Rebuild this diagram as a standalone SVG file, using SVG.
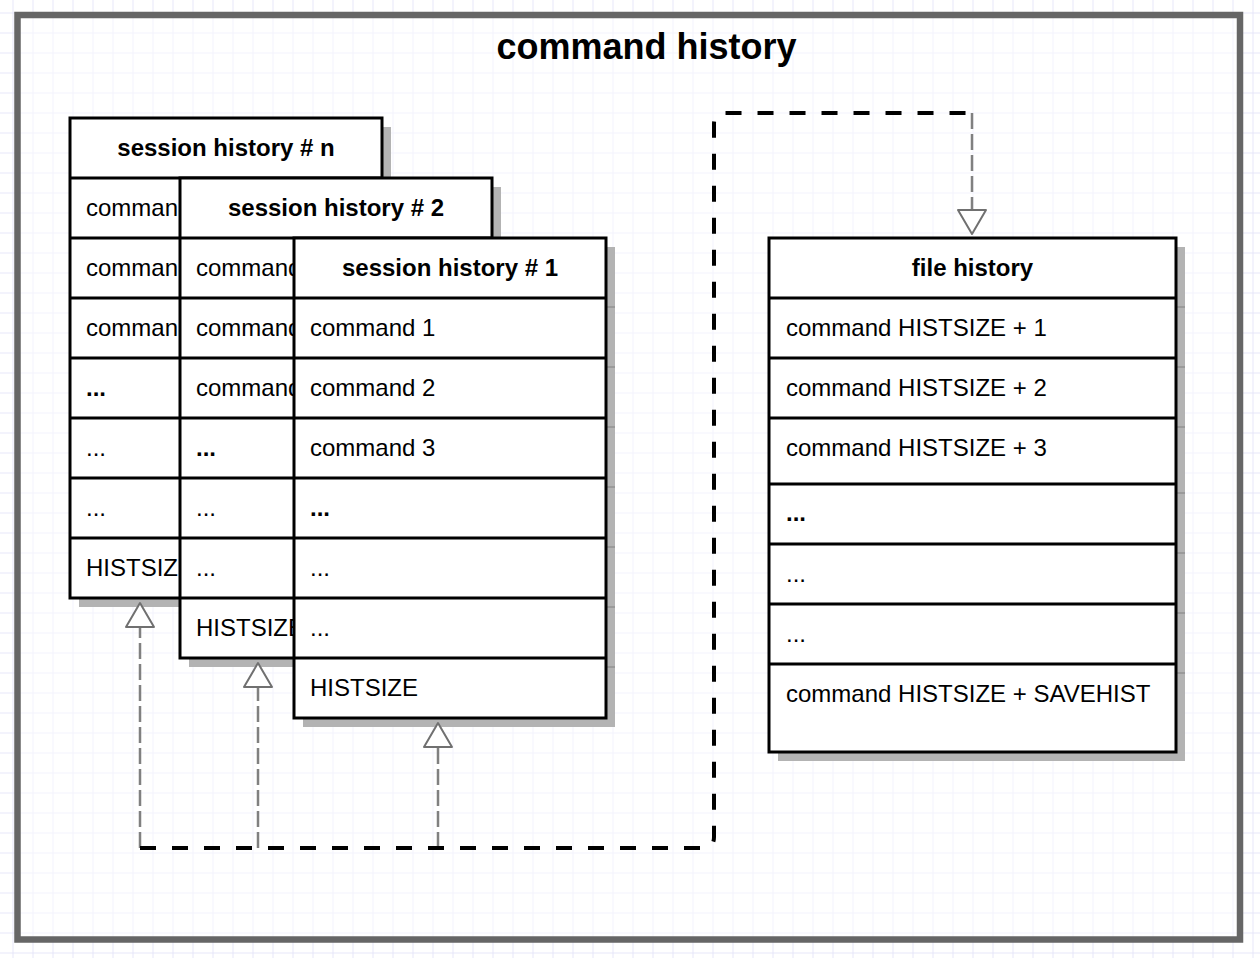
<svg xmlns="http://www.w3.org/2000/svg" width="1260" height="958" viewBox="0 0 1260 958">
  <defs>
    <pattern id="grid" x="12.5" y="12.5" width="20" height="20" patternUnits="userSpaceOnUse">
      <path d="M0.5 0 V20 M0 0.5 H20" stroke="#e6e6f8" stroke-width="1" fill="none"/>
    </pattern>
    <style>
      text { font-family: "Liberation Sans", Arial, sans-serif; fill: #000; }
      .title { font-size: 36px; font-weight: bold; text-anchor: middle; }
      .hdr { font-size: 24px; font-weight: bold; text-anchor: middle; }
      .row { font-size: 24px; }
      .b { font-weight: bold; }
      .box { fill: #fff; stroke: #000; stroke-width: 3; }
      .sep { stroke: #000; stroke-width: 3; fill: none; }
      .shadow { fill: #b3b3b3; }
      .tick { stroke: #9a9a9a; stroke-width: 2; }
      .dep { fill: none; stroke: #808080; stroke-width: 2.5; stroke-dasharray: 16 5; }
      .main { fill: none; stroke: #000; stroke-width: 4; stroke-dasharray: 16 16; }
      .tri { fill: #fff; stroke: #707070; stroke-width: 2; stroke-linejoin: round; }
    </style>
  </defs>

  <rect x="0" y="0" width="1260" height="958" fill="#fff"/>
  <rect x="0" y="0" width="1260" height="958" fill="url(#grid)"/>

  <g id="frame">
    <rect x="17.5" y="15" width="1222.5" height="924.5" fill="#fff" fill-opacity="0.5" stroke="#666" stroke-width="6.5"/>
    <text class="title" x="646.5" y="59">command history</text>
  </g>

  <g id="node-session-n">
    <rect class="shadow" x="79" y="127" width="312" height="480"/>
    <g class="tick">
      <line x1="382" y1="187" x2="391" y2="187"/>
    </g>
    <rect class="box" x="70" y="118" width="312" height="480"/>
    <path class="sep" d="M70 178 H382 M70 238 H382 M70 298 H382 M70 358 H382 M70 418 H382 M70 478 H382 M70 538 H382"/>
    <text class="hdr" x="226" y="156">session history # n</text>
    <text class="row" x="86" y="216">comman</text>
    <text class="row" x="86" y="276">comman</text>
    <text class="row" x="86" y="336">comman</text>
    <text class="row b" x="86" y="396">...</text>
    <text class="row" x="86" y="456">...</text>
    <text class="row" x="86" y="516">...</text>
    <text class="row" x="86" y="576">HISTSIZ</text>
  </g>

  <g id="node-session-2">
    <rect class="shadow" x="189" y="187" width="312" height="480"/>
    <rect class="box" x="180" y="178" width="312" height="480"/>
    <path class="sep" d="M180 238 H492 M180 298 H492 M180 358 H492 M180 418 H492 M180 478 H492 M180 538 H492 M180 598 H492"/>
    <text class="hdr" x="336" y="216">session history # 2</text>
    <text class="row" x="196" y="276">command</text>
    <text class="row" x="196" y="336">command</text>
    <text class="row" x="196" y="396">command</text>
    <text class="row b" x="196" y="456">...</text>
    <text class="row" x="196" y="516">...</text>
    <text class="row" x="196" y="576">...</text>
    <text class="row" x="196" y="636">HISTSIZE</text>
  </g>

  <g id="node-session-1">
    <rect class="shadow" x="303" y="247" width="312" height="480"/>
    <g class="tick">
      <line x1="606" y1="307" x2="615" y2="307"/>
      <line x1="606" y1="367" x2="615" y2="367"/>
      <line x1="606" y1="427" x2="615" y2="427"/>
      <line x1="606" y1="487" x2="615" y2="487"/>
      <line x1="606" y1="547" x2="615" y2="547"/>
      <line x1="606" y1="607" x2="615" y2="607"/>
      <line x1="606" y1="667" x2="615" y2="667"/>
    </g>
    <rect class="box" x="294" y="238" width="312" height="480"/>
    <path class="sep" d="M294 298 H606 M294 358 H606 M294 418 H606 M294 478 H606 M294 538 H606 M294 598 H606 M294 658 H606"/>
    <text class="hdr" x="450" y="276">session history # 1</text>
    <text class="row" x="310" y="336">command 1</text>
    <text class="row" x="310" y="396">command 2</text>
    <text class="row" x="310" y="456">command 3</text>
    <text class="row b" x="310" y="516">...</text>
    <text class="row" x="310" y="576">...</text>
    <text class="row" x="310" y="636">...</text>
    <text class="row" x="310" y="696">HISTSIZE</text>
  </g>

  <g id="node-file-history">
    <rect class="shadow" x="778" y="247" width="407" height="514"/>
    <g class="tick">
      <line x1="1176" y1="307" x2="1185" y2="307"/>
      <line x1="1176" y1="367" x2="1185" y2="367"/>
      <line x1="1176" y1="427" x2="1185" y2="427"/>
      <line x1="1176" y1="493" x2="1185" y2="493"/>
      <line x1="1176" y1="553" x2="1185" y2="553"/>
      <line x1="1176" y1="613" x2="1185" y2="613"/>
      <line x1="1176" y1="673" x2="1185" y2="673"/>
    </g>
    <rect class="box" x="769" y="238" width="407" height="514"/>
    <path class="sep" d="M769 298 H1176 M769 358 H1176 M769 418 H1176 M769 484 H1176 M769 544 H1176 M769 604 H1176 M769 664 H1176"/>
    <text class="hdr" x="972.5" y="276">file history</text>
    <text class="row" x="786" y="336">command HISTSIZE + 1</text>
    <text class="row" x="786" y="396">command HISTSIZE + 2</text>
    <text class="row" x="786" y="456">command HISTSIZE + 3</text>
    <text class="row b" x="786" y="521">...</text>
    <text class="row" x="786" y="582">...</text>
    <text class="row" x="786" y="642">...</text>
    <text class="row" x="786" y="702">command HISTSIZE + SAVEHIST</text>
  </g>

  <g id="connectors">
    <path class="dep" d="M140 848 V627"/>
    <path class="dep" d="M258 848 V687"/>
    <path class="dep" d="M438 848 V747"/>
    <path class="dep" d="M972 113 V210"/>
    <path class="main" d="M140 848 H703 Q714 848 714 837 V124 Q714 113 725 113 H972"/>
    <path class="tri" d="M140 603 L154 627 L126 627 Z"/>
    <path class="tri" d="M258 663 L272 687 L244 687 Z"/>
    <path class="tri" d="M438 723 L452 747 L424 747 Z"/>
    <path class="tri" d="M972 234 L986 210 L958 210 Z"/>
  </g>
</svg>
